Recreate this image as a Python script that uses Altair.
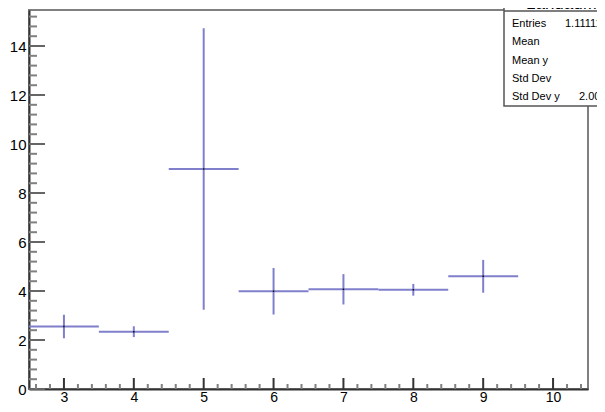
import altair as alt
import pandas as pd

# ---- data ----
bin_centers = [3, 4, 5, 6, 7, 8, 9]
bin_means = [2.55, 2.34, 8.98, 3.99, 4.07, 4.05, 4.60]
bin_errors = [0.48, 0.22, 5.75, 0.95, 0.62, 0.24, 0.67]
bin_width = 1.0

x_domain = [2.5, 10.5]
y_domain = [0, 15.47]

x_major = [3, 4, 5, 6, 7, 8, 9, 10]
y_major = [0, 2, 4, 6, 8, 10, 12, 14]
x_minor = [round(2.6 + 0.2 * i, 1) for i in range(40)]
x_minor = [v for v in x_minor if abs(v - round(v)) > 1e-6]
y_minor = [round(0.4 * i, 1) for i in range(39)]
y_minor = [v for v in y_minor if abs(v / 2 - round(v / 2)) > 1e-6]

stats_title = "LandauMean"
stats_labels = ["Entries", "Mean", "Mean y", "Std Dev", "Std Dev y"]
stats_values = ["1.111111e+05", "6.25", "4.47", "1.997", "2.003"]

FONT = "Liberation Sans"
LINE = "#7f7fcc"

df = pd.DataFrame({"x": bin_centers, "m": bin_means, "e": bin_errors})

xs = alt.Scale(domain=x_domain, nice=False, zero=False)
ys = alt.Scale(domain=y_domain, nice=False, zero=False)
x_axis = alt.Axis(values=x_major, ticks=False, grid=False, domain=True, domainColor="#333",
                  domainWidth=2, labelFont=FONT, labelFontSize=14, labelColor="#000",
                  labelPadding=1, title=None)
y_axis = alt.Axis(values=y_major, ticks=False, grid=False, domain=True, domainColor="#333",
                  domainWidth=2, labelFont=FONT, labelFontSize=15, labelColor="#000",
                  labelPadding=3, title=None)

base = alt.Chart(df).transform_calculate(
    lo=f"datum.x - {bin_width}/2",
    hi=f"datum.x + {bin_width}/2",
    ylo="datum.m - datum.e",
    yhi="datum.m + datum.e",
)

horiz = base.mark_rule(color=LINE, strokeWidth=2).encode(
    x=alt.X("lo:Q", scale=xs, axis=x_axis),
    x2="hi:Q",
    y=alt.Y("m:Q", scale=ys, axis=y_axis),
)
vert = base.mark_rule(color=LINE, strokeWidth=2).encode(
    x=alt.X("x:Q", scale=xs, axis=x_axis),
    y=alt.Y("ylo:Q", scale=ys, axis=y_axis),
    y2="yhi:Q",
)
dots = base.mark_square(size=2, color="#000", opacity=1).encode(
    x=alt.X("x:Q", scale=xs, axis=x_axis),
    y=alt.Y("m:Q", scale=ys, axis=y_axis),
)

def yticks(vals, length, color):
    return alt.Chart(pd.DataFrame({"v": vals})).mark_rule(color=color, strokeWidth=2).encode(
        y=alt.Y("v:Q", scale=ys, axis=y_axis), x=alt.value(0), x2=alt.value(length))

def xticks(vals, length, color):
    return alt.Chart(pd.DataFrame({"v": vals})).mark_rule(color=color, strokeWidth=2).encode(
        x=alt.X("v:Q", scale=xs, axis=x_axis), y=alt.value(379), y2=alt.value(379 - length))

one = alt.Data(values=[{}])
box = alt.Chart(one).mark_rect(fill="white", stroke="#555", strokeWidth=1.5).encode(
    x=alt.value(475), x2=alt.value(640), y=alt.value(-30), y2=alt.value(96))
sep = alt.Chart(one).mark_rule(color="#555", strokeWidth=1.5).encode(
    x=alt.value(475), x2=alt.value(640), y=alt.value(1))
title_t = alt.Chart(one).mark_text(text=stats_title, font=FONT, fontSize=17, align="left",
                                   baseline="alphabetic").encode(x=alt.value(497), y=alt.value(-1))

text_layers = []
row_y = [16.5, 35, 53.5, 72, 90]
val_x = [536, 582, 582, 573, 550]
for i, lab in enumerate(stats_labels):
    text_layers.append(alt.Chart(one).mark_text(text=lab, font=FONT, fontSize=11, align="left",
                                                baseline="alphabetic").encode(
        x=alt.value(483), y=alt.value(row_y[i])))
    text_layers.append(alt.Chart(one).mark_text(text=stats_values[i], font=FONT, fontSize=11,
                                                align="left", baseline="alphabetic").encode(
        x=alt.value(val_x[i]), y=alt.value(row_y[i])))

chart = alt.layer(
    horiz, vert, dots,
    yticks(y_minor, 8, "#808080"), yticks(y_major, 16, "#666"),
    xticks(x_minor, 5, "#808080"), xticks(x_major, 11, "#333"),
    box, sep, title_t, *text_layers,
).properties(
    width=559, height=379,
    autosize=alt.AutoSizeParams(type="none"),
    padding={"left": 21, "top": 2, "right": 9, "bottom": 14},
).configure_view(stroke="#808080", strokeWidth=2)

chart.save("out.html", embed_options={"renderer": "svg", "actions": False})
